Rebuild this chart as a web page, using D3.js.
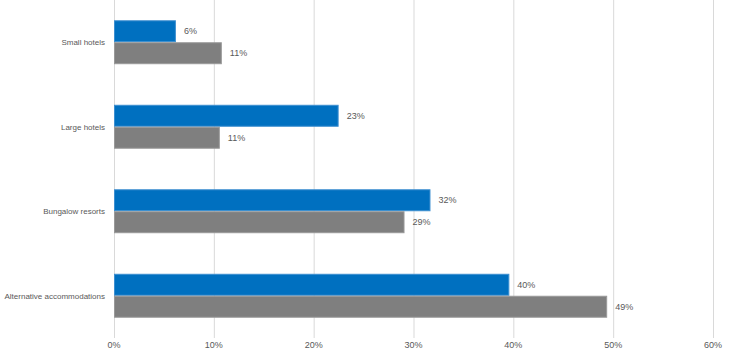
<!DOCTYPE html>
<html>
<head>
<meta charset="utf-8">
<script src="https://cdn.jsdelivr.net/npm/d3@7"></script>
<style>
  body { margin: 0; background: #fff; }
  text { font-family: "Liberation Sans", Arial, sans-serif; fill: #595959; }
</style>
</head>
<body>
<div id="chart"></div>
<script>
// data
const categories = ['Small hotels', 'Large hotels', 'Bungalow resorts', 'Alternative accommodations'];
const seriesA = [6.2, 22.5, 31.7, 39.6];   // blue
const seriesB = [10.8, 10.6, 29.1, 49.4];  // gray
const labelsA = ['6%', '23%', '32%', '40%'];
const labelsB = ['11%', '11%', '29%', '49%'];
const ticks = [0, 10, 20, 30, 40, 50, 60];

const width = 730, height = 350;
const margin = { top: 0, right: 17, bottom: 12, left: 114 };
const colors = ['#0070C0', '#7F7F7F'];
const borders = ['#3d8fd0', '#999999'];

const svg = d3.select('#chart').append('svg')
    .attr('width', width)
    .attr('height', height);

const chart = svg.append('g')
    .attr('transform', `translate(${margin.left},${margin.top})`);

const innerW = width - margin.left - margin.right,
    innerH = height - margin.top - margin.bottom;

const scaleX = d3.scaleLinear([0, 60], [0, innerW]);
const scaleY = d3.scaleBand(categories, [0, innerH]).paddingInner(0.48).paddingOuter(0.24);
const scaleSub = d3.scaleBand([0, 1], [0, scaleY.bandwidth()]);

// gridlines
chart.append('g').selectAll('line')
    .data(ticks)
    .join('line')
    .attr('x1', d => scaleX(d) + 0.5)
    .attr('x2', d => scaleX(d) + 0.5)
    .attr('y1', 0)
    .attr('y2', innerH)
    .attr('stroke', '#d9d9d9')
    .attr('stroke-width', 1);

// x tick labels (sit right at the bottom edge, like the original)
chart.append('g').selectAll('text')
    .data(ticks)
    .join('text')
    .attr('x', d => scaleX(d))
    .attr('y', innerH + 10)
    .attr('text-anchor', 'middle')
    .style('font-size', '9px')
    .text(d => d + '%');

// bars
const rows = categories.map((c, i) => ({ cat: c, vals: [seriesA[i], seriesB[i]], labels: [labelsA[i], labelsB[i]] }));

const groups = chart.selectAll('.bar-group')
    .data(rows)
    .join('g')
    .attr('class', 'bar-group')
    .attr('transform', d => `translate(0,${scaleY(d.cat)})`);

groups.selectAll('rect')
    .data(d => d.vals.map((v, k) => ({ v, k })))
    .join('rect')
    .attr('x', 0.5)
    .attr('y', d => scaleSub(d.k) + 0.5)
    .attr('width', d => scaleX(d.v) - 1)
    .attr('height', scaleSub.bandwidth() - 1)
    .attr('fill', d => colors[d.k])
    .attr('stroke', d => borders[d.k])
    .attr('stroke-width', 1);

groups.selectAll('.val')
    .data(d => d.vals.map((v, k) => ({ v, k, t: d.labels[k] })))
    .join('text')
    .attr('class', 'val')
    .attr('x', d => scaleX(d.v) + 8)
    .attr('y', d => scaleSub(d.k) + scaleSub.bandwidth() / 2)
    .attr('dy', '0.35em')
    .style('font-size', '9px')
    .text(d => d.t);

// category labels
chart.append('g').selectAll('text')
    .data(categories)
    .join('text')
    .attr('x', -9)
    .attr('y', d => scaleY(d) + scaleY.bandwidth() / 2)
    .attr('dy', '0.35em')
    .attr('text-anchor', 'end')
    .style('font-size', '8px')
    .text(d => d);
</script>
</body>
</html>
